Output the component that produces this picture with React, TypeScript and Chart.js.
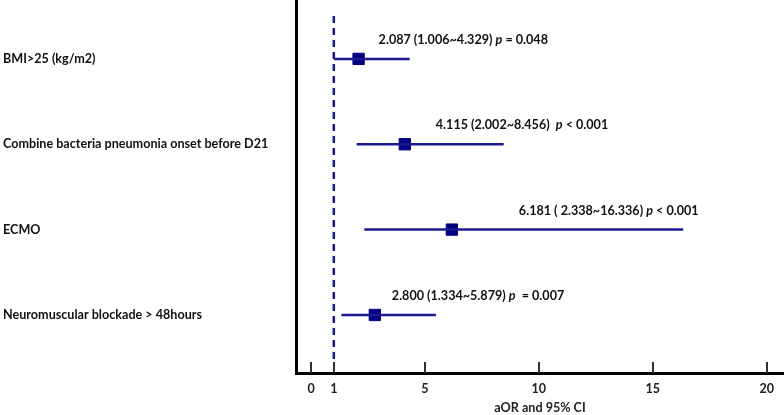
import React, { useEffect, useRef } from "react";
import { Chart, registerables } from "chart.js";

Chart.register(...registerables);

// ---- data ----
const categories = [
  "BMI>25 (kg/m2)",
  "Combine bacteria pneumonia onset before D21",
  "ECMO",
  "Neuromuscular blockade > 48hours",
];
const oddsRatio = [2.087, 4.115, 6.181, 2.8];
const ciLower = [1.006, 2.002, 2.338, 1.334];
const ciUpper = [4.329, 8.456, 16.336, 5.48];
const annotationMain = [
  "2.087 (1.006~4.329) ",
  "4.115 (2.002~8.456)  ",
  "6.181 ( 2.338~16.336) ",
  "2.800 (1.334~5.879) ",
];
const annotationP = [" = 0.048", " < 0.001", " < 0.001", "  = 0.007"];
const xTickValues = [0, 1, 5, 10, 15, 20];
const referenceValue = 1;
const xAxisTitle = "aOR and 95% CI";

// ---- styles ----
const NAVY = "#000080";
const LINE = "#1a1a8f";
const FONT = "Lato";
const FS = 12.6;
const annotationOffsetPx = [20, 31, 67, 17];

const zeroPad = (s: any) => {
  s.paddingLeft = 0;
  s.paddingRight = 0;
  s.paddingTop = 0;
  s.paddingBottom = 0;
};

const overlayPlugin = {
  id: "forestOverlay",
  afterDatasetsDraw(chart: any) {
    const { ctx, chartArea, scales } = chart;
    const xs = scales.x;
    const ys = scales.y;
    ctx.save();
    // reference dashed line
    const rx = xs.getPixelForValue(referenceValue);
    ctx.strokeStyle = LINE;
    ctx.lineWidth = 2.5;
    ctx.setLineDash([7, 5]);
    ctx.beginPath();
    ctx.moveTo(rx, chartArea.top + 16);
    ctx.lineTo(rx, chartArea.bottom - 14);
    ctx.stroke();
    ctx.setLineDash([]);
    // inner ticks
    ctx.strokeStyle = "#333";
    ctx.lineWidth = 2;
    xTickValues.forEach((v) => {
      const px = Math.round(xs.getPixelForValue(v));
      ctx.beginPath();
      ctx.moveTo(px, chartArea.bottom - 11);
      ctx.lineTo(px, chartArea.bottom);
      ctx.stroke();
    });
    // annotations
    ctx.fillStyle = "#111";
    ctx.textBaseline = "middle";
    ctx.textAlign = "left";
    categories.forEach((_, i) => {
      let x = xs.getPixelForValue(oddsRatio[i]) + annotationOffsetPx[i];
      const y = ys.getPixelForValue(i + 1) - 19;
      ctx.font = `bold ${FS}px ${FONT}`;
      ctx.fillText(annotationMain[i], x, y);
      x += ctx.measureText(annotationMain[i]).width;
      ctx.font = `italic bold ${FS}px ${FONT}`;
      ctx.fillText("p", x, y);
      x += ctx.measureText("p").width;
      ctx.font = `bold ${FS}px ${FONT}`;
      ctx.fillText(annotationP[i], x, y);
    });
    ctx.restore();
  },
};

export default function App() {
  const ref = useRef<HTMLCanvasElement | null>(null);
  useEffect(() => {
    if (!ref.current) return;
    const ciDatasets = categories.map((_, i) => ({
      type: "line" as const,
      data: [
        { x: ciLower[i], y: i + 1 },
        { x: ciUpper[i], y: i + 1 },
      ],
      borderColor: LINE,
      borderWidth: 2.5,
      pointRadius: 0,
      fill: false,
    }));
    const chart = new Chart(ref.current, {
      type: "scatter",
      data: {
        datasets: [
          ...ciDatasets,
          {
            type: "scatter" as const,
            data: oddsRatio.map((v, i) => ({ x: v, y: i + 1 })),
            pointStyle: "rect",
            pointRadius: 8,
            pointBackgroundColor: NAVY,
            pointBorderColor: NAVY,
            pointBorderWidth: 1,
          },
        ] as any,
      },
      options: {
        responsive: false,
        animation: false,
        devicePixelRatio: 1,
        layout: { autoPadding: false, padding: { left: 3, right: 0, top: 0, bottom: 0 } },
        plugins: { legend: { display: false }, tooltip: { enabled: false } },
        scales: {
          x: {
            type: "linear",
            min: -0.66,
            max: 20.76,
            afterBuildTicks: (s: any) => {
              s.ticks = xTickValues.map((v) => ({ value: v }));
            },
            afterFit: (s: any) => {
              s.height = 42;
              zeroPad(s);
            },
            grid: { display: false, drawTicks: false },
            border: { display: true, color: "#000", width: 3 },
            ticks: {
              padding: 8,
              color: "#222",
              font: { family: FONT, size: FS, weight: "bold" },
              maxRotation: 0,
              autoSkip: false,
            },
            title: {
              display: true,
              text: xAxisTitle,
              color: "#222",
              font: { family: FONT, size: FS, weight: "bold" },
              padding: { top: 4, bottom: 0 },
            },
          },
          y: {
            type: "linear",
            reverse: true,
            min: 0.31,
            max: 4.68,
            afterBuildTicks: (s: any) => {
              s.ticks = categories.map((_, i) => ({ value: i + 1 }));
            },
            afterFit: (s: any) => {
              s.width = 293;
              zeroPad(s);
            },
            grid: { display: false, drawTicks: false },
            border: { display: true, color: "#000", width: 3 },
            ticks: {
              crossAlign: "far",
              color: "#111",
              font: { family: FONT, size: FS, weight: "bold" },
              callback: (v: any) => categories[Number(v) - 1] ?? "",
              autoSkip: false,
            },
          },
        },
      },
      plugins: [overlayPlugin],
    });
    return () => chart.destroy();
  }, []);
  return (
    <canvas
      ref={ref}
      width={784}
      height={415}
      style={{ position: "fixed", left: 0, top: 0, width: 784, height: 415, background: "#fff" }}
    />
  );
}
